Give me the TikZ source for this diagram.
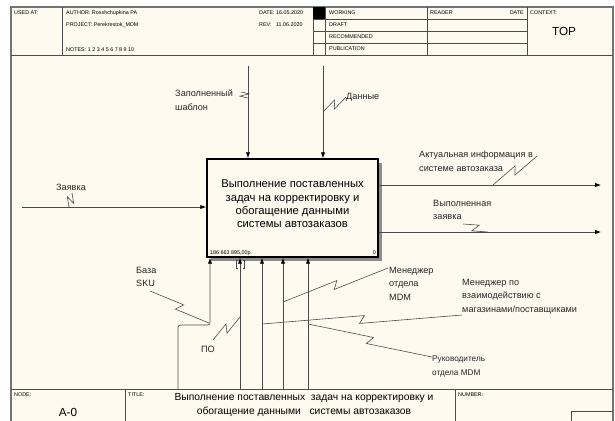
\documentclass[tikz,border=0pt]{standalone}
\usepackage{fontspec}
\setmainfont{Liberation Sans}
\usetikzlibrary{arrows.meta,calc,positioning,shadows}
\definecolor{paper}{HTML}{FFFAF0}
\definecolor{ink}{HTML}{4A4A4A}
\tikzset{sheet/.style={draw=black!55, line width=0.9pt}}
\tikzset{grid/.style={draw=black!70, line width=0.55pt}}
\tikzset{hdr/.style={font=\fontsize{4.6}{5}\selectfont, inner sep=0pt, anchor=west}}
\tikzset{lbl/.style={font=\fontsize{7.8}{11.8}\selectfont, align=left, inner sep=0pt, anchor=north west, text=black!85}}
\tikzset{conn/.style={draw=ink, line width=0.6pt}}
\tikzset{arr/.style={conn, -{Latex[length=5pt,width=3.6pt,color=black]}}}
\tikzset{func/.style={draw, line width=1.3pt, fill=paper, minimum width=5.13cm, minimum height=2.94cm,
  drop shadow={shadow xshift=0.12cm, shadow yshift=-0.12cm, fill=black!45, opacity=1}}}
% IDEF0 squiggle between a label and an arrow
\newcommand{\squig}[2]{\draw[conn, line width=0.5pt] (#1) -- ($(#1)!.5!(#2)!4pt!55:(#2)$) -- ($(#1)!.5!(#2)!4pt!-125:(#2)$) -- (#2);}

\begin{document}
\begin{tikzpicture}[x=0.03cm, y=-0.03cm]
\useasboundingbox (0,0) rectangle (615,421);
% sheet
\fill[paper] (11,7) rectangle (613,421);
\draw[sheet] (11,421) -- (11,7) -- (613,7) -- (613,421);
% header
\draw[grid] (11,55) -- (613,55);
\draw[grid] (62,7) -- (62,55);
\draw[grid] (313,7) -- (313,55) (325,7) -- (325,55) (427,7) -- (427,55) (527,7) -- (527,55);
\draw[grid] (313,19) -- (527,19) (313,31) -- (527,31) (313,43) -- (527,43);
\fill (313,7) rectangle (325,19);
\node[hdr] (usedat) at (14,13) {USED AT:};
\node[hdr] (author) at (66,13) {AUTHOR:\ Rosshchupkina PA};
\node[hdr] (project) at (66,25) {PROJECT:\ Perekrestok\_MDM};
\node[hdr] (notes) at (66,50) {NOTES:\ 1\ 2\ 3\ 4\ 5\ 6\ 7\ 8\ 9\ 10};
\node[hdr] (date) at (259,13) {DATE:\ 16.05.2020};
\node[hdr] (rev) at (259,25) {REV:\ \ \ 11.06.2020};
\node[hdr] (working) at (329,13) {WORKING};
\node[hdr] (draft) at (329,25) {DRAFT};
\node[hdr] (recommended) at (329,37) {RECOMMENDED};
\node[hdr] (publication) at (329,49) {PUBLICATION};
\node[hdr] (reader) at (430,13) {READER};
\node[hdr, anchor=east] (rdate) at (524,13) {DATE};
\node[hdr] (context) at (530,13) {CONTEXT:};
\node[font=\fontsize{10}{12}\selectfont] (top) at (564,31) {TOP};
% footer
\draw[grid] (11,389) -- (613,389);
\draw[grid] (125,389) -- (125,421) (455,389) -- (455,421);
\draw[grid] (571,421) -- (571,411) -- (613,411);
\node[hdr] (nodehdr) at (14,395) {NODE:};
\node[hdr] (titlehdr) at (128,395) {TITLE:};
\node[hdr] (numhdr) at (458,395) {NUMBER:};
\node[font=\fontsize{10}{12}\selectfont] (nodeid) at (68,412) {A-0};
\node[font=\fontsize{8.8}{12.5}\selectfont, align=center] (titletxt) at (304,405)
  {Выполнение поставленных\ \ задач на корректировку и\\обогащение данными\ \ \ системы автозаказов};

% activity
\node[func] (A0) at (292.5,208) {};
\node[font=\fontsize{9.6}{11.3}\selectfont, align=center, inner sep=0pt] (A0txt) at (292.5,204)
  {Выполнение поставленных\\задач на корректировку и\\обогащение данными\\системы автозаказов};
\node[hdr, font=\fontsize{4.6}{5}\selectfont] (cost) at (210,253) {186 663 895,00р.};
\node[hdr, anchor=east] (nr) at (376,253) {0};

% controls
\coordinate (ctl1) at (248,66);
\coordinate (ctl2) at (323,66);
\draw[arr] (ctl1) -- (ctl1 |- A0.north);
\draw[arr] (ctl2) -- (ctl2 |- A0.north);
% input
\coordinate (in1) at (22,207);
\draw[arr] (in1) -- (in1 -| A0.west);
% outputs
\coordinate (out1) at (601,185);
\coordinate (out2) at (601,232);
\draw[arr] (out1 -| A0.east) -- (out1);
\draw[arr] (out2 -| A0.east) -- (out2);
% mechanisms
\coordinate (mech1) at (178,389);
\coordinate (mech1k) at (210,325);
\coordinate (mech2) at (240,389);
\coordinate (mech3) at (262,389);
\coordinate (mech4) at (283,389);
\coordinate (mech5) at (308,389);
\draw[arr, rounded corners=2pt] (mech1) |- (mech1k) -- (mech1k |- A0.south);
\foreach \m in {mech2,mech3,mech4,mech5}
  \draw[arr] (\m) -- (\m |- A0.south);
% tunnel brackets
\draw[conn] (237.5,260) -- (236,260) -- (236,268) -- (237.5,268);
\draw[conn] (242.5,260) -- (244,260) -- (244,268) -- (242.5,268);

% labels
\node[lbl, anchor=center] (zayavka) at (71,187) {Заявка};
\node[lbl] (zapoln) at (175,89.5) {Заполненный\\шаблон};
\node[lbl, anchor=west] (dannye) at (346,97) {Данные};
\node[lbl] (aktual) at (419,150.5) {Актуальная информация в\\системе автозаказа};
\node[lbl] (vypoln) at (433,199.5) {Выполненная\\заявка};
\node[lbl] (baza) at (136,266.5) {База\\SKU};
\node[lbl, anchor=center] (po) at (208,349) {ПО};
\node[lbl] (menmdm) at (389,266.5) {Менеджер\\отдела\\MDM};
\node[lbl] (menvz) at (462,278.5) {Менеджер по\\взаимодействию с\\магазинами/поставщиками};
\node[lbl, font=\fontsize{7}{12}\selectfont] (ruk) at (432,356) {Руководитель\\отдела MDM};

% squiggles
\coordinate (zayavka-s) at (72,193);   \coordinate (zayavka-t) at (69,207);
\coordinate (zapoln-s) at (241,92);    \coordinate (zapoln-t) at (248,98);
\coordinate (dannye-t) at (323,112);
\coordinate (aktual-s) at (537,156);   \coordinate (aktual-t) at (493,185);
\coordinate (vypoln-s) at (463,224);   \coordinate (vypoln-t) at (488,232);
\coordinate (baza-s) at (150,291);     \coordinate (baza-t) at (209,323);
\coordinate (po-s) at (213,340);       \coordinate (po-t) at (240,317);
\coordinate (menmdm-s) at (388,268);   \coordinate (menmdm-t) at (283,302);
\coordinate (menvz-s) at (462,315);    \coordinate (menvz-t) at (262,324);
\coordinate (ruk-s) at (432,357);      \coordinate (ruk-t) at (308,324);
\squig{zayavka-s}{zayavka-t}
\squig{zapoln-s}{zapoln-t}
\squig{dannye.west}{dannye-t}
\squig{aktual-s}{aktual-t}
\squig{vypoln-s}{vypoln-t}
\squig{baza-s}{baza-t}
\squig{po-s}{po-t}
\squig{menmdm-s}{menmdm-t}
\squig{menvz-s}{menvz-t}
\squig{ruk-s}{ruk-t}
\end{tikzpicture}
\end{document}
